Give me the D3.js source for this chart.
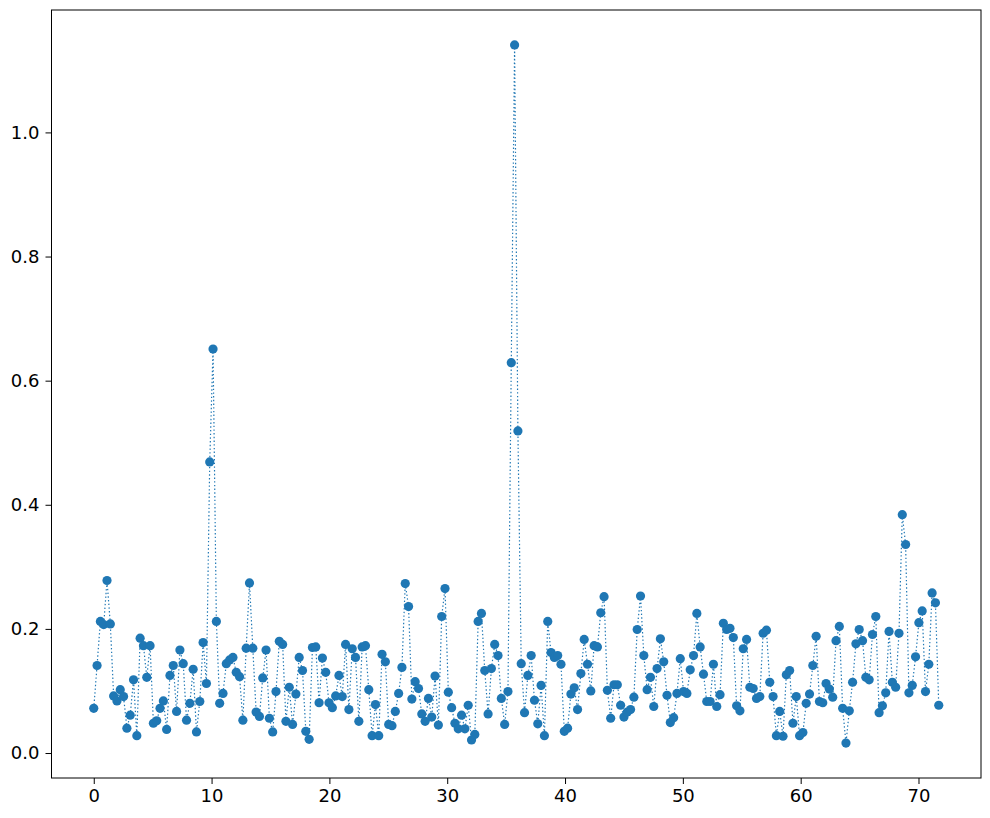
<!DOCTYPE html>
<html>
<head>
<meta charset="utf-8">
<script src="https://cdn.jsdelivr.net/npm/d3@7"></script>
<style>
  html, body { margin: 0; padding: 0; background: #fff; }
  svg text { font-family: "DejaVu Sans", sans-serif; }
</style>
</head>
<body>
<svg id="chart" width="990" height="818"></svg>
<script>
// Sample spacing (hours) and measured values
const step = 72 / 256;
const values = [
  0.072, 0.141, 0.212, 0.207, 0.278, 0.208, 0.092, 0.084, 0.102, 0.091,
  0.040, 0.061, 0.118, 0.028, 0.185, 0.173, 0.122, 0.173, 0.048, 0.052,
  0.072, 0.084, 0.038, 0.125, 0.141, 0.067, 0.166, 0.144, 0.053, 0.080,
  0.135, 0.034, 0.083, 0.178, 0.112, 0.469, 0.651, 0.212, 0.080, 0.096,
  0.144, 0.150, 0.154, 0.130, 0.123, 0.053, 0.169, 0.274, 0.169, 0.066,
  0.059, 0.121, 0.166, 0.056, 0.034, 0.099, 0.180, 0.175, 0.051, 0.106,
  0.046, 0.095, 0.154, 0.133, 0.035, 0.022, 0.170, 0.171, 0.081, 0.153,
  0.130, 0.081, 0.073, 0.092, 0.125, 0.091, 0.175, 0.070, 0.168, 0.154,
  0.051, 0.171, 0.173, 0.102, 0.028, 0.078, 0.028, 0.159, 0.147, 0.046,
  0.044, 0.067, 0.096, 0.138, 0.273, 0.236, 0.087, 0.115, 0.104, 0.063,
  0.051, 0.088, 0.058, 0.124, 0.045, 0.220, 0.265, 0.098, 0.073, 0.048,
  0.039, 0.061, 0.039, 0.077, 0.021, 0.030, 0.212, 0.225, 0.133, 0.063,
  0.136, 0.175, 0.157, 0.088, 0.046, 0.099, 0.629, 1.141, 0.519, 0.144,
  0.065, 0.125, 0.157, 0.085, 0.047, 0.109, 0.028, 0.212, 0.162, 0.154,
  0.157, 0.143, 0.035, 0.040, 0.095, 0.105, 0.070, 0.128, 0.183, 0.143,
  0.100, 0.173, 0.171, 0.226, 0.252, 0.101, 0.056, 0.110, 0.110, 0.077,
  0.058, 0.066, 0.070, 0.090, 0.199, 0.253, 0.157, 0.102, 0.122, 0.075,
  0.136, 0.184, 0.147, 0.093, 0.049, 0.057, 0.096, 0.152, 0.099, 0.096,
  0.134, 0.157, 0.225, 0.171, 0.127, 0.083, 0.083, 0.143, 0.075, 0.094,
  0.209, 0.199, 0.201, 0.186, 0.076, 0.068, 0.168, 0.183, 0.106, 0.104,
  0.088, 0.091, 0.193, 0.198, 0.114, 0.091, 0.028, 0.067, 0.027, 0.126,
  0.133, 0.048, 0.091, 0.028, 0.033, 0.080, 0.095, 0.141, 0.188, 0.083,
  0.081, 0.112, 0.103, 0.090, 0.181, 0.204, 0.072, 0.016, 0.068, 0.114,
  0.176, 0.199, 0.181, 0.122, 0.118, 0.191, 0.220, 0.065, 0.076, 0.097,
  0.196, 0.114, 0.106, 0.193, 0.384, 0.336, 0.097, 0.109, 0.155, 0.210,
  0.229, 0.099, 0.143, 0.258, 0.242, 0.077
];
const xTicks = [0, 10, 20, 30, 40, 50, 60, 70];
const yTicks = [0.0, 0.2, 0.4, 0.6, 0.8, 1.0];

const data = values.map((v, i) => ({ x: i * step, y: v }));

const svg = d3.select("#chart");
const box = { left: 51.5, right: 981, top: 10, bottom: 778 };
const color = "#1f77b4";

// matplotlib-like 5% margins
const xMin = d3.min(data, d => d.x), xMax = d3.max(data, d => d.x);
const yMin = d3.min(data, d => d.y), yMax = d3.max(data, d => d.y);
const xPad = (xMax - xMin) * 0.05, yPad = (yMax - yMin) * 0.05;

const x = d3.scaleLinear().domain([xMin - xPad, xMax + xPad]).range([box.left, box.right]);
const y = d3.scaleLinear().domain([yMin - yPad, yMax + yPad]).range([box.bottom, box.top]);

const fontSize = 18;

// axes
const xAxis = d3.axisBottom(x).tickValues(xTicks).tickFormat(d3.format("d")).tickSizeOuter(0).tickSize(6).tickPadding(5);
const yAxis = d3.axisLeft(y).tickValues(yTicks).tickFormat(d3.format(".1f")).tickSizeOuter(0).tickSize(6).tickPadding(6);

const gx = svg.append("g").attr("transform", `translate(0,${box.bottom})`).call(xAxis);
const gy = svg.append("g").attr("transform", `translate(${box.left},0)`).call(yAxis);
[gx, gy].forEach(g => {
  g.select(".domain").remove();
  g.selectAll(".tick line").attr("stroke", "#000").attr("stroke-width", 1);
  g.selectAll(".tick text").attr("fill", "#000").style("font-size", fontSize + "px").style("font-family", "DejaVu Sans, sans-serif");
});

// line
const line = d3.line().x(d => x(d.x)).y(d => y(d.y));
svg.append("path")
  .datum(data)
  .attr("d", line)
  .attr("fill", "none")
  .attr("stroke", color)
  .attr("stroke-width", 1.2)
  .attr("stroke-dasharray", "1.4,2.3");

// markers
svg.append("g").selectAll("circle")
  .data(data)
  .join("circle")
  .attr("cx", d => x(d.x))
  .attr("cy", d => y(d.y))
  .attr("r", 4.6)
  .attr("fill", color);

// frame
svg.append("rect")
  .attr("x", box.left).attr("y", box.top)
  .attr("width", box.right - box.left).attr("height", box.bottom - box.top)
  .attr("fill", "none").attr("stroke", "#000").attr("stroke-width", 1);
</script>
</body>
</html>
